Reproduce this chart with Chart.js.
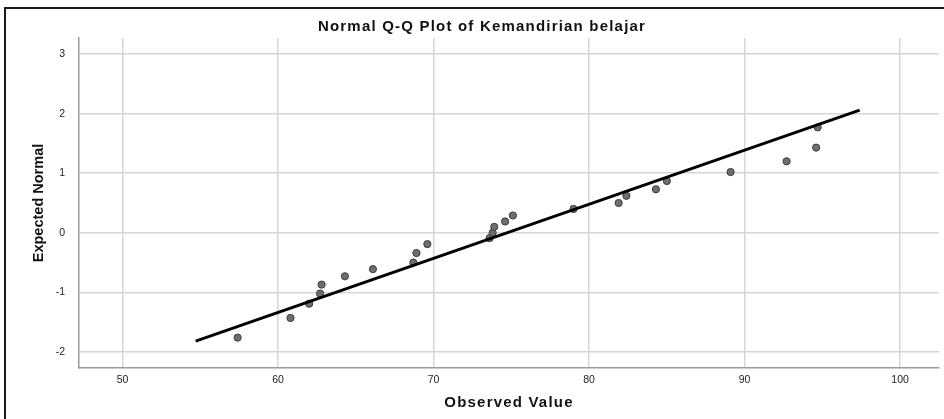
<!DOCTYPE html>
<html>
<head>
<meta charset="utf-8">
<script src="https://cdn.jsdelivr.net/npm/chart.js@4.4.1/dist/chart.umd.min.js"></script>
<style>
  html, body { margin: 0; padding: 0; background: #fff; overflow: hidden; }
  #wrap { position: absolute; left: 0; top: 0; width: 944px; height: 419px; }
  #frame {
    position: absolute; left: 4px; top: 7px; width: 960px; height: 430px;
    border: 2px solid #1a1a1a; pointer-events: none;
  }
</style>
</head>
<body>
<div id="wrap"><canvas id="chart" width="944" height="419"></canvas></div>
<div id="frame"></div>
<script>
const observed = [57.4, 60.8, 62.0, 62.7, 62.8, 64.3, 66.1, 68.7, 68.9, 69.6,
                  73.6, 73.8, 73.9, 74.6, 75.1, 79.0, 81.9, 82.4, 84.3, 85.0,
                  89.1, 92.7, 94.6, 94.7];
const expected = [-1.76, -1.43, -1.19, -1.02, -0.87, -0.73, -0.61, -0.50, -0.34, -0.19,
                  -0.09, 0.00, 0.10, 0.19, 0.29, 0.40, 0.50, 0.62, 0.73, 0.87,
                  1.02, 1.20, 1.43, 1.77];

// reference line ends
const lineX = [54.7, 97.4];
const lineY = [-1.82, 2.06];

const xTicks = [50, 60, 70, 80, 90, 100];
const yTicks = [-2, -1, 0, 1, 2, 3];

const chartTitle = "Normal Q-Q Plot of Kemandirian belajar";
const xTitle = "Observed Value";
const yTitle = "Expected Normal";

const tickFont = { family: "'Liberation Sans', Arial, sans-serif", size: 10.5 };
const boldFont = { family: "'Liberation Sans', Arial, sans-serif", size: 15, weight: 'bold' };

const ctx = document.getElementById("chart").getContext("2d");

// the SPSS titles are spaced out wider than plain canvas text
const spacing = {};
spacing[chartTitle] = '1.2px';
spacing[xTitle] = '1.2px';
const plainFill = ctx.fillText.bind(ctx);
ctx.fillText = function (t, x, y, w) {
    if (spacing[t]) {
        ctx.letterSpacing = spacing[t];
        plainFill(t, x, y, w);
        ctx.letterSpacing = '0px';
    } else {
        plainFill(t, x, y, w);
    }
};

const chart = new Chart(ctx, {
    type: 'scatter',
    data: {
        datasets: [{
            label: "line",
            data: lineX.map((x, i) => ({ x: x, y: lineY[i] })),
            showLine: true,
            borderColor: '#000',
            borderWidth: 3,
            pointRadius: 0,
            fill: false
        }, {
            label: "Kemandirian belajar",
            data: observed.map((x, i) => ({ x: x, y: expected[i] })),
            backgroundColor: '#6e6e6e',
            borderColor: '#3a3a3a',
            borderWidth: 1,
            pointRadius: 3.6
        }]
    },
    options: {
        responsive: false,
        animation: false,
        layout: { padding: { left: 24, right: 4, top: 10, bottom: 0 } },
        plugins: {
            legend: { display: false },
            tooltip: { enabled: false },
            title: {
                display: true,
                text: chartTitle,
                color: '#111',
                font: boldFont,
                padding: { top: 8, bottom: 2 }
            }
        },
        scales: {
            x: {
                type: 'linear',
                min: 47.2,
                max: 102.5,
                afterBuildTicks: s => { s.ticks = xTicks.map(v => ({ value: v })); },
                afterFit: s => { s.height = 51; },
                grid: { color: '#d6d6d6', lineWidth: 1.5, drawTicks: false },
                border: { color: '#9a9a9a', width: 1.5 },
                ticks: { color: '#222', font: tickFont, padding: 6, maxRotation: 0 },
                title: {
                    display: true, text: xTitle, color: '#111', font: boldFont,
                    padding: { top: 0, bottom: 7 }
                }
            },
            y: {
                type: 'linear',
                min: -2.27,
                max: 3.27,
                afterBuildTicks: s => { s.ticks = yTicks.map(v => ({ value: v })); },
                afterFit: s => { s.width = 55; },
                grid: { color: '#d6d6d6', lineWidth: 1.5, drawTicks: false },
                border: { color: '#9a9a9a', width: 1.5 },
                ticks: { color: '#222', font: tickFont, padding: 14 },
                title: {
                    display: true, text: yTitle, color: '#111',
                    font: { family: "'Liberation Sans', Arial, sans-serif", size: 14.5, weight: 'bold' },
                    padding: { top: 6, bottom: 0 }
                }
            }
        }
    }
});
</script>
</body>
</html>
